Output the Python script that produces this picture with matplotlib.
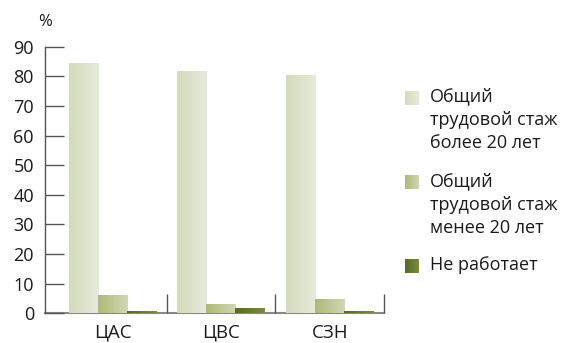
import matplotlib
matplotlib.use("Agg")
import matplotlib.pyplot as plt
import numpy as np
from matplotlib.colors import LinearSegmentedColormap, to_rgb

plt.rcParams['font.family'] = ['Open Sans', 'DejaVu Sans']

categories = ["ЦАС", "ЦВС", "СЗН"]
series_names = ["Общий\nтрудовой стаж\nболее 20 лет",
                "Общий\nтрудовой стаж\nменее 20 лет",
                "Не работает"]
over20 = [84.2, 81.5, 80.2]
under20 = [5.9, 2.8, 4.5]
not_working = [0.6, 1.5, 0.6]
yticks = [0, 10, 20, 30, 40, 50, 60, 70, 80, 90]

series = [over20, under20, not_working]
grads = [("#d3dbbc", "#e6eadb"), ("#adb979", "#d0d7b2"), ("#566b20", "#7a8c3e")]

fig = plt.figure(figsize=(5.63, 3.43), dpi=100)
ax = fig.add_axes([45/563, 1-313.3/343, (384-45)/563, (313.3-46.7)/343])

x = np.arange(len(categories))
w = 0.27
offsets = [-0.267, 0.0, 0.267]
grad = np.linspace(0, 1, 64).reshape(1, -1)
for vals, off, (c0, c1) in zip(series, offsets, grads):
    cmap = LinearSegmentedColormap.from_list("g", [c0, c1])
    bars = ax.bar(x + off, vals, w, color='none', edgecolor='none')
    for b in bars:
        bx, by = b.get_x(), b.get_y()
        ax.imshow(grad, cmap=cmap, aspect='auto', extent=[bx, bx + b.get_width(), by, by + b.get_height()],
                  zorder=2, interpolation='bilinear')

ax.set_xlim(-0.622, 2.5)
ax.set_ylim(0, 90)
for s in ['top', 'right']:
    ax.spines[s].set_visible(False)
ax.spines['left'].set_color('#555555')
ax.spines['bottom'].set_color('#888888')
ax.spines['left'].set_linewidth(1.0)
ax.spines['bottom'].set_linewidth(1.5)
ax.spines['bottom'].set_zorder(1)

ax.set_yticks(yticks)
ax.tick_params(axis='y', direction='in', length=14, width=1, color='#555555', labelsize=13, pad=8, labelcolor='#1a1a1a')
ax.set_xticks([0.5, 1.5, 2.5])
ax.set_xticklabels([])
ax.tick_params(axis='x', direction='in', length=14, width=1, color='#555555')
for xi, c in zip(x, categories):
    ax.text(xi, -3.6, c, ha='center', va='top', fontsize=13.5, color='#1a1a1a')

fig.text(45/563, 1-22/343, "%", ha='center', va='center', fontsize=12, color='#1a1a1a')

# legend
entries_y = [(90.7, 98), (175, 183), (259, 267)]
for (sq_top, txt_y), name, (c0, c1) in zip(entries_y, series_names, grads):
    cmap = LinearSegmentedColormap.from_list("g", [c0, c1])
    lax = fig.add_axes([405/563, 1-(sq_top+14)/343, 14/563, 14/343])
    lax.imshow(grad, cmap=cmap, aspect='auto', interpolation='bilinear')
    lax.axis('off')
    fig.text(430/563, 1-(txt_y-10.5)/343, name, ha='left', va='top', fontsize=13, color='#1a1a1a', linespacing=1.38)

fig.savefig("out.png", dpi=100)
